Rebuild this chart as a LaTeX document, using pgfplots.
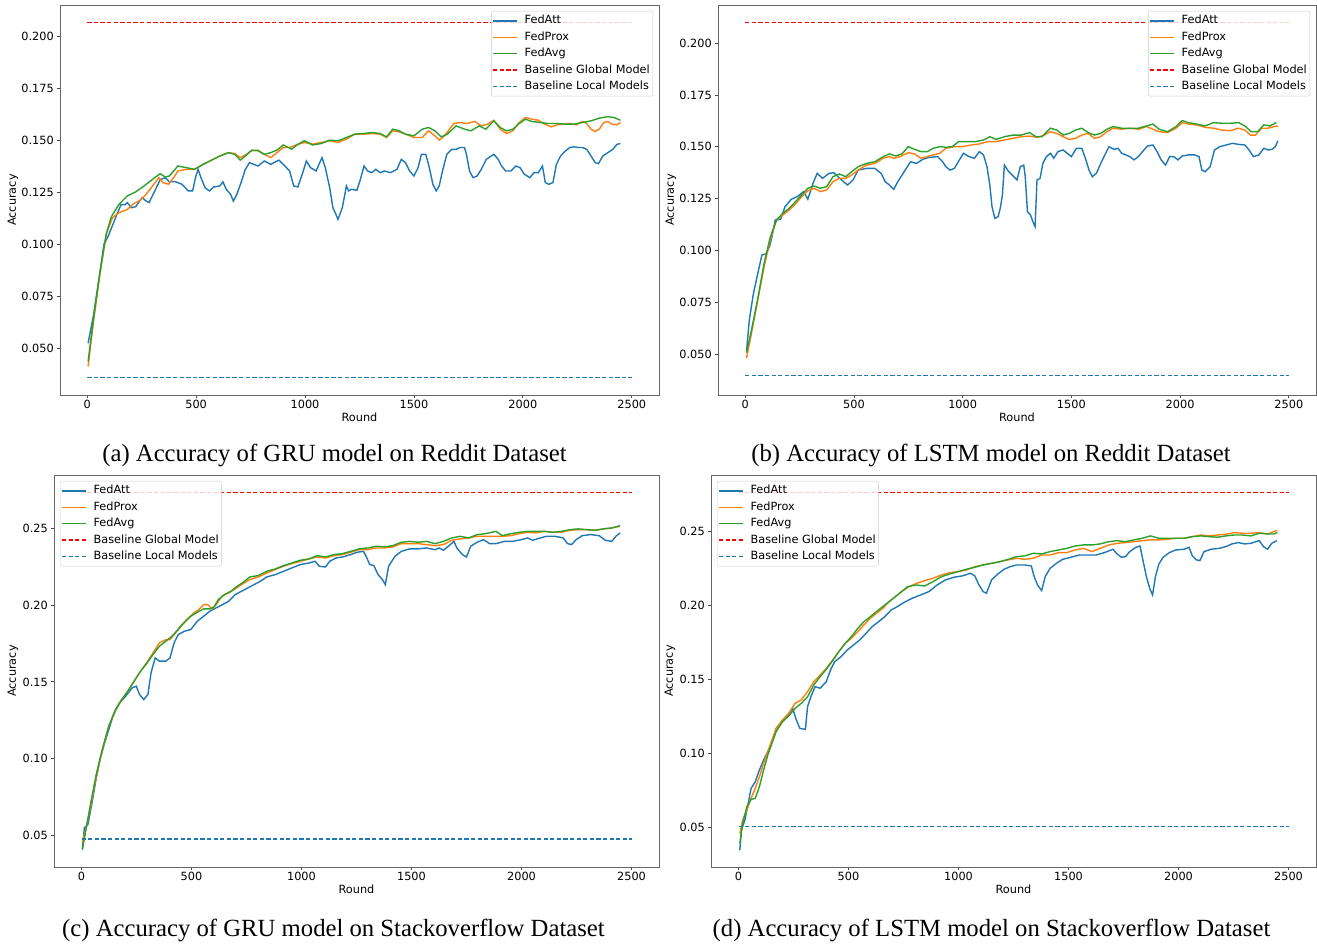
\documentclass[border=0pt]{standalone}
\usepackage{fontspec}
\setmainfont{Liberation Serif}
\newfontfamily\dejavu{DejaVu Sans}
\usepackage{pgfplots}
\pgfplotsset{compat=1.18}
\definecolor{cZero}{RGB}{31,119,180}
\definecolor{cOne}{RGB}{255,127,14}
\definecolor{cTwo}{RGB}{44,160,44}
\definecolor{cRed}{RGB}{255,0,0}
\newcommand{\axfont}{\dejavu\fontsize{11.3}{13.5}\selectfont}
\pgfplotsset{
  panel/.style={
    scale only axis,
    xmin=-125, xmax=2625,
    xtick={0,500,1000,1500,2000,2500},
    tick align=outside,
    tick pos=left,
    major tick length=3.5pt,
    every tick/.style={black!70, line width=0.8pt},
    axis line style={black!60, line width=0.8pt},
    font=\axfont,
    tick label style={font=\axfont, /pgf/number format/assume math mode=true, /pgf/number format/1000 sep={}},
    yticklabel style={inner xsep=2.5pt},
    xticklabel style={inner ysep=1.8pt},
    scaled y ticks=false,
    xlabel={Round}, ylabel={Accuracy},
    every axis x label/.style={at={([yshift=-22pt]axis description cs:0.5,0)}, anchor=center},
    legend cell align=left,
    legend image code/.code={\draw[##1] (0pt,0pt) -- (24pt,0pt);},
    legend style={draw=black!20, rounded corners=2pt, fill=white, fill opacity=0.8, text opacity=1,
      font=\axfont, inner xsep=1pt, inner ysep=1.5pt, column sep=5pt,
      nodes={inner xsep=2pt, inner ysep=2.7pt, text height=8.5pt, text depth=2.5pt}},
  },
  topfmt/.style={yticklabel style={/pgf/number format/.cd, fixed, fixed zerofill, precision=3},
    ytick={0.05,0.075,0.1,0.125,0.15,0.175,0.2},
    every axis y label/.style={at={([xshift=-47pt]axis description cs:0,0.5)}, anchor=center, rotate=90}},
  botfmt/.style={yticklabel style={/pgf/number format/.cd, fixed, fixed zerofill, precision=2},
    ytick={0.05,0.1,0.15,0.2,0.25},
    every axis y label/.style={at={([xshift=-41pt]axis description cs:0,0.5)}, anchor=center, rotate=90}},
  sAtt/.style={draw=cZero, color=cZero, line width=1.4pt, solid},
  sProx/.style={draw=cOne, color=cOne, line width=1.4pt, solid},
  sAvg/.style={draw=cTwo, color=cTwo, line width=1.4pt, solid},
  gdash/.style={draw=cRed, color=cRed, line width=1.4pt, dash pattern=on 4.3pt off 2.3pt},
  ldash/.style={draw=cZero, color=cZero, line width=1.4pt, dash pattern=on 4.3pt off 2.3pt},
}
\begin{document}
\begin{tikzpicture}
\useasboundingbox (0pt,0pt) rectangle (1317pt,944pt);

% ---------------- (a) GRU Reddit ----------------
\begin{axis}[panel, topfmt, at={(60pt,549pt)}, anchor=south west, width=599pt, height=390pt,
  ymin=0.0275, ymax=0.215,
  legend style={at={(1,1)}, anchor=north east, xshift=-6pt, yshift=-6pt}]
\addplot[sAtt] coordinates {(4,0.0524)(29,0.066)(58,0.0862)(77,0.1)(97,0.104)(116,0.109)(135,0.114)(155,0.119)(174,0.119)(184,0.120)(203,0.1175)(222,0.118)(252,0.1224)(271,0.1207)(284,0.120)(310,0.1256)(335,0.131)(358,0.132)(377,0.130)(406,0.130)(435,0.1288)(464,0.1256)(484,0.1256)(497,0.132)(509,0.136)(522,0.132)(542,0.127)(561,0.1256)(580,0.1275)(609,0.128)(623,0.130)(638,0.1264)(658,0.124)(671,0.1207)(687,0.124)(706,0.1296)(726,0.136)(745,0.1392)(764,0.1384)(784,0.1376)(813,0.140)(842,0.1384)(880,0.1404)(900,0.1384)(929,0.1352)(948,0.128)(967,0.1275)(987,0.1336)(1006,0.140)(1025,0.1368)(1051,0.1352)(1064,0.1384)(1078,0.1416)(1093,0.1368)(1113,0.1272)(1128,0.1175)(1142,0.1143)(1151,0.1119)(1171,0.1175)(1190,0.128)(1200,0.1256)(1213,0.1264)(1238,0.1259)(1252,0.1304)(1271,0.1376)(1287,0.1352)(1306,0.1344)(1325,0.136)(1345,0.1344)(1364,0.1352)(1393,0.1344)(1422,0.136)(1442,0.1408)(1461,0.1392)(1480,0.1352)(1500,0.1328)(1519,0.1368)(1534,0.1432)(1554,0.1432)(1567,0.1384)(1587,0.1288)(1602,0.1256)(1616,0.128)(1631,0.1352)(1651,0.1432)(1674,0.1456)(1693,0.1456)(1712,0.1465)(1732,0.1465)(1741,0.1432)(1755,0.1352)(1771,0.132)(1790,0.1328)(1809,0.136)(1832,0.1408)(1867,0.1432)(1887,0.1408)(1902,0.1376)(1921,0.1352)(1945,0.1352)(1968,0.1376)(1987,0.1368)(2007,0.1336)(2032,0.132)(2051,0.1344)(2071,0.1344)(2090,0.1376)(2103,0.1296)(2119,0.1288)(2138,0.1296)(2154,0.1384)(2173,0.1424)(2196,0.1449)(2216,0.1465)(2235,0.1468)(2254,0.1465)(2274,0.1465)(2293,0.1456)(2308,0.1432)(2332,0.1392)(2347,0.1387)(2367,0.1424)(2390,0.144)(2413,0.1456)(2432,0.148)(2448,0.1484)};
\addlegendentry{FedAtt}
\addplot[sProx] coordinates {(4,0.0412)(29,0.0629)(58,0.0854)(87,0.1047)(116,0.1127)(145,0.1151)(184,0.1167)(213,0.1195)(242,0.121)(271,0.124)(300,0.128)(329,0.132)(348,0.1296)(373,0.1288)(397,0.132)(416,0.1352)(455,0.136)(493,0.136)(532,0.1384)(571,0.1404)(609,0.1424)(648,0.144)(677,0.1436)(703,0.1416)(726,0.1429)(755,0.1449)(784,0.1452)(813,0.1432)(842,0.1416)(871,0.144)(900,0.1465)(929,0.1465)(958,0.1477)(997,0.1489)(1035,0.1481)(1074,0.1489)(1113,0.1497)(1151,0.1489)(1190,0.1505)(1229,0.1529)(1267,0.1529)(1306,0.1532)(1345,0.1529)(1374,0.1513)(1403,0.1545)(1432,0.154)(1461,0.1529)(1500,0.1513)(1538,0.1513)(1567,0.1545)(1596,0.1521)(1616,0.15)(1635,0.1516)(1654,0.154)(1683,0.158)(1712,0.1585)(1741,0.158)(1780,0.159)(1809,0.1569)(1838,0.1577)(1867,0.1596)(1896,0.1553)(1925,0.1532)(1954,0.1545)(1983,0.1585)(2012,0.1609)(2041,0.1601)(2071,0.1596)(2100,0.1577)(2129,0.1564)(2158,0.1574)(2187,0.1577)(2216,0.158)(2245,0.1574)(2274,0.159)(2293,0.158)(2313,0.1553)(2332,0.1542)(2351,0.1553)(2371,0.1585)(2390,0.159)(2409,0.1577)(2432,0.1574)(2448,0.1585)};
\addlegendentry{FedProx}
\addplot[sAvg] coordinates {(4,0.0436)(29,0.0645)(58,0.0862)(87,0.1047)(110,0.113)(145,0.1191)(184,0.1232)(222,0.1251)(261,0.128)(300,0.1312)(335,0.1339)(358,0.1323)(377,0.1328)(397,0.1352)(416,0.1376)(455,0.1368)(493,0.136)(532,0.1384)(571,0.1404)(609,0.1424)(648,0.144)(677,0.1432)(703,0.1404)(726,0.1424)(755,0.1452)(784,0.1449)(813,0.1432)(842,0.144)(871,0.1452)(900,0.1477)(939,0.1457)(967,0.148)(997,0.1497)(1035,0.1477)(1074,0.1484)(1113,0.15)(1151,0.1497)(1190,0.1513)(1229,0.1529)(1267,0.1532)(1306,0.1537)(1345,0.1532)(1374,0.1516)(1403,0.1553)(1432,0.1545)(1461,0.1529)(1500,0.1521)(1538,0.1553)(1567,0.1561)(1596,0.1545)(1625,0.1516)(1654,0.1529)(1693,0.1569)(1732,0.1553)(1761,0.1545)(1800,0.1569)(1829,0.1553)(1867,0.1593)(1896,0.1561)(1925,0.1545)(1954,0.1553)(1983,0.158)(2012,0.1601)(2041,0.159)(2080,0.1585)(2119,0.158)(2158,0.158)(2196,0.1577)(2235,0.1577)(2274,0.1585)(2313,0.1593)(2351,0.1606)(2390,0.1613)(2419,0.1609)(2448,0.1596)};
\addlegendentry{FedAvg}
\addplot[gdash] coordinates {(0,0.2065)(2500,0.2065)};
\addlegendentry{Baseline Global Model}
\addplot[ldash] coordinates {(0,0.036)(2500,0.036)};
\addlegendentry{Baseline Local Models}
\end{axis}

% ---------------- (b) LSTM Reddit ----------------
\begin{axis}[panel, topfmt, at={(718pt,549pt)}, anchor=south west, width=598pt, height=390pt,
  ymin=0.0302, ymax=0.2185,
  legend style={at={(1,1)}, anchor=north east, xshift=-6pt, yshift=-6pt}]
\addplot[sAtt] coordinates {(6,0.0511)(19,0.0664)(38,0.0793)(58,0.0889)(77,0.0978)(96,0.0983)(112,0.1018)(125,0.1074)(138,0.1147)(163,0.115)(183,0.1211)(212,0.1247)(240,0.126)(269,0.1284)(288,0.1247)(312,0.1324)(331,0.1372)(356,0.1348)(385,0.1372)(408,0.1375)(427,0.1356)(452,0.1332)(471,0.1316)(496,0.134)(519,0.1388)(558,0.1396)(596,0.1396)(625,0.1372)(644,0.1332)(663,0.1316)(683,0.1295)(702,0.1332)(731,0.138)(760,0.1428)(788,0.142)(817,0.144)(846,0.1449)(885,0.1453)(908,0.1428)(923,0.1404)(942,0.1388)(962,0.1396)(985,0.1437)(1004,0.1469)(1029,0.1453)(1054,0.1445)(1077,0.1477)(1096,0.1461)(1112,0.1404)(1125,0.1316)(1135,0.1211)(1148,0.1155)(1163,0.1163)(1173,0.1203)(1183,0.1268)(1192,0.1412)(1212,0.138)(1235,0.1356)(1250,0.134)(1265,0.1404)(1281,0.1412)(1288,0.1356)(1298,0.1187)(1312,0.1171)(1323,0.1139)(1333,0.1115)(1342,0.134)(1356,0.1348)(1369,0.142)(1385,0.1453)(1404,0.1469)(1419,0.1445)(1438,0.1477)(1462,0.1485)(1481,0.1469)(1500,0.1453)(1523,0.1493)(1548,0.1493)(1567,0.1437)(1581,0.1388)(1596,0.1356)(1615,0.1372)(1635,0.142)(1654,0.1461)(1673,0.1501)(1696,0.1488)(1715,0.1493)(1731,0.1469)(1750,0.1461)(1769,0.1453)(1788,0.1437)(1808,0.1453)(1827,0.1477)(1850,0.1504)(1875,0.1509)(1894,0.1477)(1913,0.1437)(1933,0.1412)(1952,0.1453)(1971,0.1453)(1990,0.1437)(2010,0.1456)(2038,0.1461)(2067,0.1461)(2087,0.1453)(2100,0.1388)(2115,0.138)(2138,0.1404)(2158,0.1485)(2183,0.1501)(2212,0.1509)(2240,0.1517)(2269,0.1512)(2298,0.1509)(2317,0.1485)(2337,0.1453)(2362,0.1461)(2385,0.1493)(2404,0.1485)(2423,0.1488)(2438,0.1501)(2450,0.153)};
\addlegendentry{FedAtt}
\addplot[sProx] coordinates {(6,0.0479)(29,0.06)(58,0.076)(87,0.0921)(115,0.105)(144,0.1147)(173,0.1171)(202,0.1195)(231,0.1224)(260,0.126)(288,0.1288)(317,0.13)(346,0.1284)(375,0.1292)(404,0.1332)(433,0.1348)(462,0.1348)(490,0.1364)(519,0.1388)(558,0.1412)(596,0.142)(635,0.1445)(663,0.1453)(683,0.1445)(712,0.1453)(750,0.1472)(779,0.1466)(808,0.1445)(837,0.1453)(865,0.1461)(894,0.1469)(923,0.1493)(962,0.1501)(1000,0.1501)(1038,0.1509)(1077,0.1514)(1115,0.1525)(1154,0.1525)(1192,0.1533)(1231,0.1541)(1269,0.1549)(1308,0.1552)(1346,0.1546)(1375,0.1557)(1404,0.1573)(1433,0.1565)(1462,0.1549)(1490,0.1536)(1519,0.1541)(1548,0.1557)(1577,0.1565)(1606,0.1541)(1635,0.1549)(1663,0.1573)(1692,0.159)(1731,0.1585)(1769,0.159)(1808,0.1585)(1846,0.1598)(1875,0.1585)(1904,0.1573)(1942,0.1569)(1981,0.159)(2010,0.1617)(2038,0.161)(2077,0.1606)(2115,0.1594)(2154,0.159)(2192,0.1581)(2231,0.1578)(2269,0.159)(2298,0.1581)(2323,0.1557)(2346,0.1557)(2375,0.159)(2404,0.159)(2433,0.1598)(2452,0.1601)};
\addlegendentry{FedProx}
\addplot[sAvg] coordinates {(6,0.0506)(29,0.0616)(58,0.0768)(87,0.0938)(115,0.1063)(144,0.1147)(173,0.1179)(202,0.1203)(231,0.1235)(260,0.1268)(288,0.13)(317,0.1311)(346,0.13)(375,0.1308)(404,0.1356)(433,0.1369)(462,0.1356)(490,0.138)(519,0.1404)(558,0.142)(596,0.1428)(635,0.1453)(663,0.1466)(692,0.1456)(721,0.1466)(750,0.1501)(779,0.1488)(808,0.1477)(837,0.1477)(865,0.1493)(894,0.1501)(923,0.1498)(952,0.1501)(981,0.1525)(1019,0.1525)(1058,0.1525)(1096,0.1533)(1125,0.1549)(1154,0.1536)(1192,0.1549)(1231,0.1557)(1269,0.1557)(1308,0.1569)(1337,0.1549)(1365,0.1549)(1404,0.159)(1433,0.1581)(1462,0.1557)(1490,0.1565)(1519,0.1581)(1548,0.159)(1577,0.1569)(1606,0.1557)(1635,0.1565)(1663,0.1585)(1692,0.1598)(1731,0.159)(1769,0.159)(1808,0.159)(1846,0.1601)(1875,0.161)(1904,0.1585)(1942,0.1573)(1981,0.1598)(2010,0.1627)(2038,0.1617)(2077,0.161)(2115,0.1601)(2154,0.1617)(2192,0.1614)(2231,0.1614)(2269,0.1617)(2298,0.1601)(2327,0.1573)(2356,0.1573)(2385,0.1606)(2413,0.1601)(2442,0.1617)};
\addlegendentry{FedAvg}
\addplot[gdash] coordinates {(0,0.210)(2500,0.210)};
\addlegendentry{Baseline Global Model}
\addplot[ldash] coordinates {(0,0.0395)(2500,0.0395)};
\addlegendentry{Baseline Local Models}
\end{axis}

% ---------------- (c) GRU Stackoverflow ----------------
\begin{axis}[panel, botfmt, at={(54pt,77pt)}, anchor=south west, width=605pt, height=392pt,
  ymin=0.0295, ymax=0.2847,
  legend style={at={(0,1)}, anchor=north west, xshift=6pt, yshift=-6pt}]
\addplot[sAtt] coordinates {(4,0.0409)(13,0.055)(29,0.0572)(48,0.0713)(67,0.0875)(86,0.1005)(105,0.1103)(124,0.119)(143,0.1277)(172,0.1363)(201,0.1407)(230,0.1461)(249,0.1472)(264,0.1418)(283,0.1385)(302,0.1418)(316,0.1559)(335,0.1656)(354,0.1635)(383,0.1635)(402,0.1656)(421,0.1754)(440,0.1808)(468,0.183)(497,0.1841)(526,0.1895)(555,0.1927)(583,0.196)(612,0.1982)(641,0.2003)(669,0.2025)(698,0.2068)(727,0.209)(756,0.2112)(784,0.2133)(813,0.2155)(842,0.2183)(880,0.2198)(918,0.222)(956,0.2242)(995,0.2264)(1033,0.2274)(1062,0.2285)(1081,0.2253)(1109,0.2248)(1128,0.2285)(1157,0.2307)(1186,0.2313)(1224,0.2329)(1253,0.2344)(1282,0.235)(1297,0.2307)(1310,0.2264)(1329,0.2257)(1348,0.2198)(1368,0.2166)(1381,0.2133)(1396,0.2253)(1425,0.2318)(1454,0.235)(1492,0.2366)(1530,0.2366)(1568,0.2372)(1607,0.2361)(1626,0.2372)(1645,0.2357)(1664,0.2379)(1693,0.2415)(1706,0.2372)(1731,0.2329)(1750,0.2313)(1769,0.2383)(1798,0.2409)(1827,0.2426)(1855,0.24)(1884,0.24)(1922,0.2415)(1961,0.2415)(1999,0.2426)(2028,0.2437)(2051,0.2422)(2085,0.2437)(2114,0.2448)(2152,0.2448)(2190,0.2437)(2209,0.24)(2228,0.2394)(2248,0.2426)(2276,0.2452)(2314,0.2459)(2353,0.2452)(2381,0.2422)(2410,0.2415)(2429,0.2448)(2448,0.247)};
\addlegendentry{FedAtt}
\addplot[sProx] coordinates {(4,0.0452)(19,0.0539)(42,0.0691)(67,0.0886)(96,0.106)(124,0.1212)(153,0.1309)(182,0.1385)(210,0.1439)(239,0.1504)(268,0.1569)(296,0.1624)(325,0.1689)(354,0.1754)(383,0.1775)(402,0.1775)(421,0.1808)(449,0.1862)(478,0.1906)(507,0.1945)(536,0.1975)(555,0.2003)(574,0.2003)(593,0.1975)(612,0.2003)(641,0.2062)(669,0.2079)(698,0.2105)(727,0.2133)(765,0.2166)(803,0.2183)(842,0.2209)(880,0.2231)(918,0.2253)(956,0.227)(995,0.2285)(1033,0.23)(1071,0.2313)(1109,0.2307)(1148,0.2322)(1186,0.2329)(1224,0.2344)(1262,0.2361)(1301,0.2361)(1339,0.2372)(1377,0.2372)(1415,0.2379)(1454,0.24)(1492,0.24)(1530,0.24)(1568,0.2394)(1607,0.2387)(1645,0.2394)(1683,0.2422)(1721,0.2431)(1760,0.2437)(1798,0.2448)(1836,0.2448)(1874,0.2448)(1913,0.2448)(1951,0.2452)(1989,0.2465)(2028,0.2474)(2066,0.247)(2104,0.248)(2142,0.2474)(2181,0.2474)(2219,0.2487)(2257,0.2491)(2295,0.2491)(2334,0.2487)(2372,0.2496)(2410,0.2502)(2448,0.2513)};
\addlegendentry{FedProx}
\addplot[sAvg] coordinates {(4,0.0409)(19,0.0528)(42,0.0713)(67,0.0897)(96,0.107)(124,0.1212)(153,0.1316)(182,0.1381)(210,0.1439)(239,0.1504)(268,0.1569)(296,0.1619)(325,0.1678)(354,0.1732)(383,0.1765)(411,0.1797)(440,0.1841)(468,0.1888)(497,0.1927)(526,0.1953)(555,0.1975)(583,0.1975)(602,0.1988)(622,0.2036)(650,0.2068)(679,0.209)(708,0.2123)(736,0.2149)(765,0.2183)(803,0.2192)(842,0.222)(880,0.2235)(918,0.2257)(956,0.2274)(995,0.2292)(1033,0.23)(1071,0.2322)(1109,0.2313)(1148,0.2329)(1186,0.2335)(1224,0.235)(1262,0.2366)(1301,0.2372)(1339,0.2383)(1377,0.2379)(1415,0.2387)(1454,0.2409)(1492,0.2415)(1530,0.2409)(1568,0.2415)(1607,0.24)(1645,0.2415)(1683,0.2437)(1721,0.2448)(1760,0.2437)(1798,0.2459)(1836,0.2465)(1884,0.248)(1913,0.2452)(1951,0.2465)(1989,0.2474)(2028,0.248)(2066,0.248)(2104,0.248)(2142,0.2474)(2181,0.248)(2219,0.2491)(2257,0.2496)(2295,0.2491)(2334,0.2487)(2372,0.2496)(2410,0.2502)(2448,0.2517)};
\addlegendentry{FedAvg}
\addplot[gdash] coordinates {(0,0.2734)(2500,0.2734)};
\addlegendentry{Baseline Global Model}
\addplot[ldash] coordinates {(0,0.0478)(2500,0.0478)};
\addlegendentry{Baseline Local Models}
\end{axis}

% ---------------- (d) LSTM Stackoverflow ----------------
\begin{axis}[panel, botfmt, at={(711pt,77pt)}, anchor=south west, width=605pt, height=392pt,
  ymin=0.0235, ymax=0.2880,
  legend style={at={(0,1)}, anchor=north west, xshift=6pt, yshift=-6pt}]
\addplot[sAtt] coordinates {(6,0.0349)(13,0.0484)(29,0.0552)(44,0.0664)(57,0.0765)(76,0.081)(95,0.0889)(114,0.0957)(133,0.1013)(152,0.108)(171,0.117)(190,0.1204)(219,0.1249)(247,0.1305)(260,0.1238)(279,0.117)(304,0.1164)(314,0.1317)(329,0.1384)(348,0.1452)(371,0.1441)(399,0.1485)(418,0.1564)(437,0.162)(466,0.1654)(494,0.1699)(523,0.1733)(551,0.1767)(580,0.1812)(608,0.1857)(637,0.1891)(665,0.1924)(694,0.1969)(722,0.1992)(751,0.2019)(789,0.2048)(827,0.2070)(865,0.2093)(903,0.2138)(941,0.2172)(979,0.219)(1017,0.2199)(1055,0.2217)(1074,0.2199)(1093,0.2138)(1112,0.2093)(1127,0.2082)(1150,0.2172)(1179,0.2212)(1207,0.2244)(1236,0.2262)(1264,0.2273)(1302,0.2273)(1331,0.2266)(1344,0.2194)(1359,0.2138)(1378,0.21)(1394,0.2194)(1416,0.225)(1445,0.2284)(1473,0.2311)(1511,0.2325)(1549,0.234)(1587,0.234)(1625,0.234)(1663,0.2356)(1702,0.2379)(1721,0.2347)(1740,0.2325)(1759,0.2329)(1778,0.2363)(1806,0.2392)(1825,0.2401)(1838,0.2307)(1854,0.2194)(1869,0.2115)(1882,0.207)(1895,0.2194)(1911,0.2280)(1930,0.2325)(1958,0.2356)(1987,0.2374)(2025,0.2379)(2048,0.2392)(2063,0.2334)(2082,0.2307)(2097,0.2302)(2116,0.2363)(2148,0.2379)(2186,0.2385)(2215,0.2397)(2243,0.2415)(2272,0.2424)(2300,0.2415)(2329,0.2419)(2367,0.2437)(2386,0.2397)(2405,0.2379)(2424,0.2419)(2447,0.2437)};
\addlegendentry{FedAtt}
\addplot[sProx] coordinates {(6,0.0462)(19,0.0552)(38,0.0619)(57,0.0698)(76,0.0765)(95,0.0844)(114,0.0934)(133,0.1013)(152,0.1092)(171,0.117)(200,0.1227)(228,0.1272)(257,0.1339)(285,0.1362)(314,0.1418)(342,0.1485)(371,0.153)(399,0.1575)(428,0.1632)(456,0.1688)(485,0.1744)(513,0.1778)(542,0.1823)(570,0.1868)(599,0.1913)(627,0.1947)(656,0.198)(684,0.2025)(713,0.2059)(741,0.2093)(770,0.2122)(808,0.2149)(846,0.2167)(884,0.2183)(922,0.2205)(960,0.2221)(998,0.2228)(1036,0.2239)(1074,0.2262)(1112,0.2273)(1150,0.2284)(1188,0.2295)(1226,0.2307)(1264,0.2318)(1302,0.2311)(1340,0.2318)(1378,0.234)(1416,0.234)(1454,0.2356)(1492,0.2356)(1530,0.2374)(1568,0.2385)(1606,0.2363)(1644,0.2385)(1683,0.2408)(1721,0.2419)(1759,0.2424)(1797,0.243)(1835,0.2437)(1873,0.2442)(1911,0.2442)(1949,0.2446)(1987,0.2453)(2025,0.2453)(2063,0.2464)(2101,0.2475)(2139,0.2469)(2177,0.2475)(2215,0.248)(2253,0.2491)(2291,0.2487)(2329,0.2487)(2367,0.2491)(2405,0.2482)(2433,0.2498)(2449,0.2505)};
\addlegendentry{FedProx}
\addplot[sAvg] coordinates {(6,0.0394)(19,0.0529)(38,0.0642)(57,0.0691)(76,0.0698)(95,0.0777)(114,0.0889)(133,0.099)(152,0.1069)(171,0.1148)(200,0.1215)(228,0.1254)(257,0.1305)(285,0.1339)(314,0.1384)(342,0.1463)(371,0.1519)(399,0.1569)(428,0.1627)(456,0.1688)(485,0.1744)(513,0.1789)(542,0.1845)(570,0.189)(599,0.1924)(627,0.1958)(656,0.1992)(684,0.2025)(713,0.2059)(741,0.2093)(770,0.2127)(808,0.2138)(846,0.2131)(884,0.216)(922,0.2194)(960,0.2212)(998,0.2228)(1036,0.2244)(1074,0.2257)(1112,0.2273)(1150,0.2284)(1188,0.2295)(1226,0.2311)(1264,0.2329)(1302,0.2334)(1340,0.2352)(1378,0.2347)(1416,0.2363)(1454,0.2374)(1492,0.2385)(1530,0.2401)(1568,0.2408)(1606,0.2408)(1644,0.2415)(1683,0.243)(1721,0.2437)(1759,0.243)(1797,0.2442)(1835,0.2453)(1873,0.2469)(1911,0.2453)(1949,0.2453)(1987,0.2453)(2025,0.2453)(2063,0.2464)(2101,0.2469)(2139,0.2464)(2177,0.246)(2215,0.2469)(2253,0.2475)(2291,0.2475)(2329,0.2469)(2367,0.2487)(2405,0.2482)(2433,0.2482)(2449,0.2491)};
\addlegendentry{FedAvg}
\addplot[gdash] coordinates {(0,0.2761)(2500,0.2761)};
\addlegendentry{Baseline Global Model}
\addplot[ldash] coordinates {(0,0.0507)(2500,0.0507)};
\addlegendentry{Baseline Local Models}
\end{axis}

% captions
\node[font=\fontsize{24.7}{29}\selectfont, anchor=center] at (334.5pt,489pt) {(a) Accuracy of GRU model on Reddit Dataset};
\node[font=\fontsize{24.7}{29}\selectfont, anchor=center] at (991pt,489pt) {(b) Accuracy of LSTM model on Reddit Dataset};
\node[font=\fontsize{24.7}{29}\selectfont, anchor=center] at (333.5pt,14pt) {(c) Accuracy of GRU model on Stackoverflow Dataset};
\node[font=\fontsize{24.7}{29}\selectfont, anchor=center] at (991.5pt,14pt) {(d) Accuracy of LSTM model on Stackoverflow Dataset};
\end{tikzpicture}
\end{document}
